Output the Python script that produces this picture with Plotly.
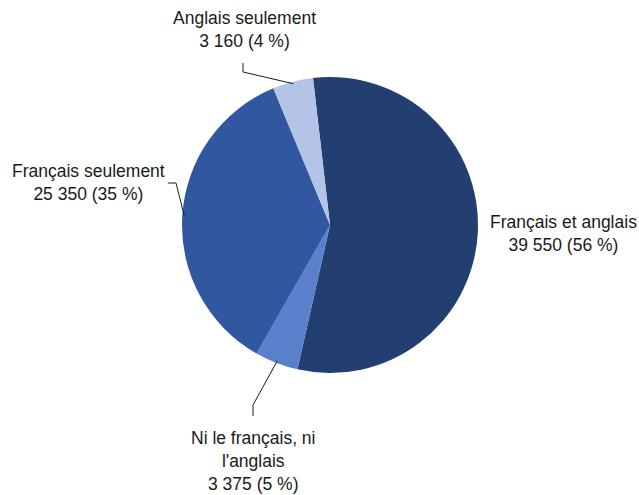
import math
import plotly.graph_objects as go

labels = ["Français et anglais", "Ni le français, ni l'anglais", "Français seulement", "Anglais seulement"]
values = [39550, 3375, 25350, 3160]
pct = [56, 5, 35, 4]
colors = ["#233e71", "#5a80cb", "#30579f", "#b4c4e7"]

W, H = 639, 495
cx, cy, r = 330, 225, 148
rotation = -6.6
font = dict(family="Liberation Sans, Arial, sans-serif", size=17.5, color="#1a1a1a")


def fmt(v):
    return f"{v:,}".replace(",", " ")


def px(x, y):
    return x / W, 1 - y / H


fig = go.Figure()
fig.add_trace(go.Pie(
    labels=labels, values=values, sort=False, direction="clockwise",
    rotation=rotation, textinfo="none", hoverinfo="label+value",
    marker=dict(colors=colors, line=dict(width=0)),
    domain=dict(x=[(cx - r) / W, (cx + r) / W], y=[1 - (cy + r) / H, 1 - (cy - r) / H]),
    showlegend=False,
))

# label text positions (pixel centres) and leader line elbows
label_pos = {
    "Français et anglais": (563, 234, None),
    "Ni le français, ni l'anglais": (253, 461, [(253, 416), (253, 405)]),
    "Français seulement": (88, 183, [(168, 183), (176, 183)]),
    "Anglais seulement": (244, 30, [(243, 63), (243, 72)]),
}
display = {
    "Français et anglais": "Français et anglais",
    "Ni le français, ni l'anglais": "Ni le français, ni<br>l'anglais",
    "Français seulement": "Français seulement",
    "Anglais seulement": "Anglais seulement",
}

total = sum(values)
start = rotation
for lab, v, p in zip(labels, values, pct):
    span = v / total * 360
    mid = math.radians(start + span / 2)
    start += span
    tx, ty, elbow = label_pos[lab]
    ax, ay = px(tx, ty)
    fig.add_annotation(x=ax, y=ay, xref="paper", yref="paper", showarrow=False,
                       text=f"{display[lab]}<br>{fmt(v)} ({p} %)", font=font,
                       xanchor="center", yanchor="middle", align="center")
    if elbow:
        ex, ey = cx + (r - 2) * math.sin(mid), cy - (r - 2) * math.cos(mid)
        pts = [px(*q) for q in elbow] + [px(ex, ey)]
        path = "M " + " L ".join(f"{a},{b}" for a, b in pts)
        fig.add_shape(type="path", path=path, xref="paper", yref="paper",
                      line=dict(color="#1a1a1a", width=1))

fig.update_layout(width=W, height=H, margin=dict(l=0, r=0, t=0, b=0),
                  paper_bgcolor="white", plot_bgcolor="white")
# page body has a default 8px margin; remove it so the figure sits at the corner
fig.write_html("out.html", config={"displayModeBar": False},
               post_script="document.body.style.margin='0';")
